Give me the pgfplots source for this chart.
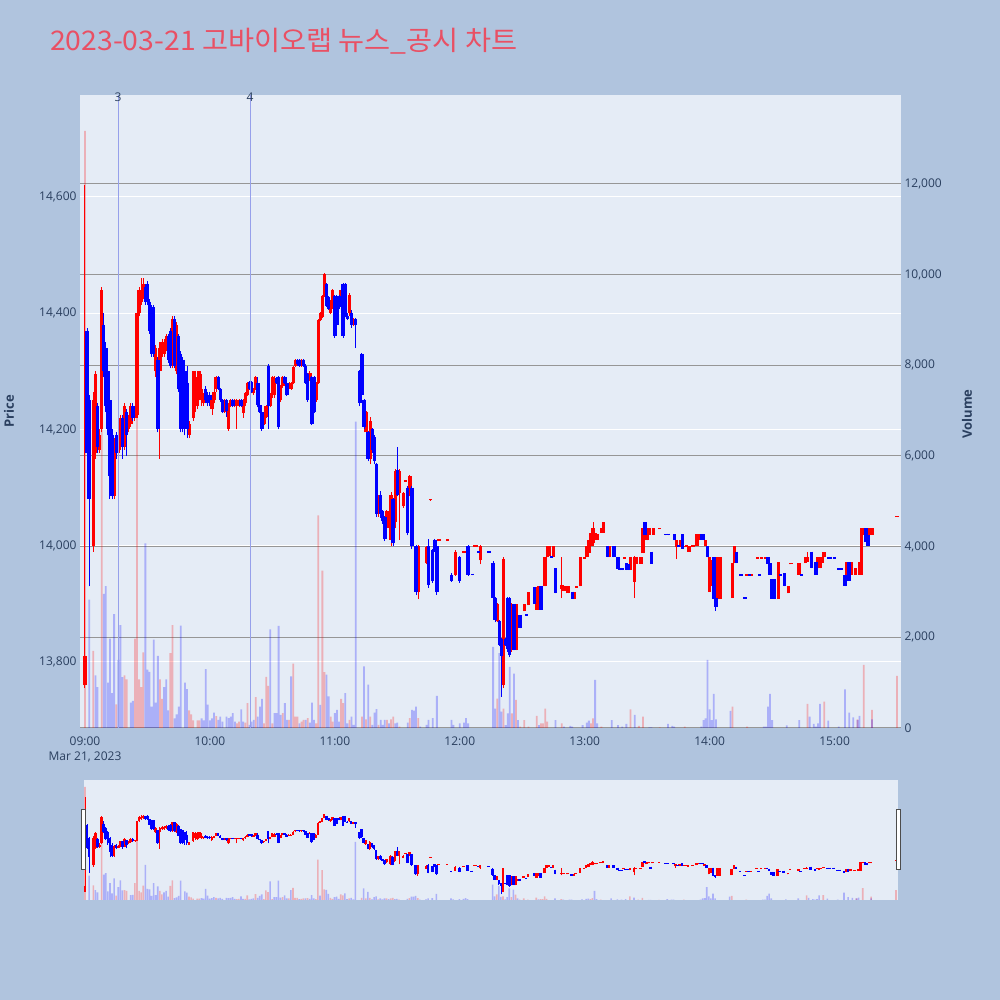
\documentclass[border=0pt]{standalone}
\usepackage{fontspec}
\setmainfont{Open Sans}
\newfontfamily\cjk[FakeStretch=1.05]{Noto Sans CJK KR}
\usepackage{pgfplots}
\pgfplotsset{compat=1.18}
\usepackage{pgfplotstable}

\definecolor{pagebg}{RGB}{176,196,222}
\definecolor{plotbg}{RGB}{229,236,246}
\definecolor{tickc}{RGB}{42,63,95}
\definecolor{gridgray}{RGB}{150,150,150}
\definecolor{cred}{RGB}{255,0,0}
\definecolor{cblue}{RGB}{0,0,255}
\definecolor{vline}{RGB}{150,160,235}
\definecolor{titlec}{RGB}{233,80,100}

% minute index from 09:00, open high low close
\pgfplotstableread{
m o h l c
0 13760 14620 13755 13810
4 14000 14265 13990 14250
5 14160 14300 14150 14295
7 14165 14200 14160 14190
8 14200 14445 14195 14440
14 14085 14185 14080 14180
16 14160 14185 14155 14180
17 14170 14225 14165 14220
19 14170 14245 14165 14240
21 14200 14225 14195 14220
22 14210 14245 14205 14240
24 14220 14235 14215 14230
25 14225 14405 14220 14400
26 14400 14445 14395 14440
27 14420 14460 14415 14440
28 14430 14460 14425 14450
34 14300 14345 14290 14340
36 14300 14350 14150 14340
37 14330 14355 14325 14350
38 14330 14355 14325 14350
39 14340 14365 14335 14360
42 14310 14395 14305 14390
44 14300 14385 14295 14380
50 14190 14215 14185 14210
52 14220 14300 14215 14300
53 14250 14300 14230 14290
54 14240 14300 14235 14260
55 14260 14300 14250 14300
56 14250 14295 14240 14270
57 14245 14262 14240 14258
61 14235 14265 14225 14260
62 14250 14270 14245 14265
63 14270 14292 14265 14290
67 14230 14252 14228 14250
69 14200 14245 14198 14240
70 14241 14252 14238 14250
72 14240 14252 14238 14250
73 14240 14252 14200 14250
74 14240 14252 14238 14250
76 14228 14252 14220 14250
77 14245 14265 14240 14262
78 14260 14282 14258 14280
81 14262 14272 14260 14270
82 14270 14292 14268 14290
86 14210 14224 14208 14222
87 14222 14242 14220 14240
89 14240 14262 14238 14259
90 14259 14292 14255 14290
91 14259 14292 14255 14288
94 14250 14277 14248 14275
95 14275 14292 14272 14290
98 14272 14282 14270 14280
99 14270 14282 14268 14280
100 14280 14310 14278 14308
101 14310 14322 14308 14320
104 14310 14322 14308 14320
108 14285 14300 14283 14298
111 14250 14282 14248 14280
112 14280 14390 14278 14388
113 14388 14402 14386 14400
114 14393 14432 14391 14430
115 14430 14470 14428 14468
118 14400 14422 14398 14420
119 14410 14442 14408 14440
123 14410 14442 14408 14440
127 14400 14435 14395 14432
129 14380 14392 14378 14390
135 14195 14232 14190 14230
137 14150 14222 14140 14215
141 14055 14088 14050 14085
145 14030 14062 14020 14060
147 14010 14092 14000 14088
149 14040 14132 14030 14128
151 14090 14132 14010 14128
153 14068 14092 14065 14090
154 14110 14113 14110 14113
156 14088 14122 14085 14120
160 13920 14002 13908 14000
164 13970 14000 13968 13998
166 14078 14081 14077 14081
170 14008 14011 14008 14011
174 14008 14011 14008 14011
178 13950 13992 13948 13990
182 13988 13991 13988 13991
187 13998 14001 13998 14001
188 13998 14001 13998 14001
190 13975 14002 13968 14000
198 13870 13902 13868 13900
201 13760 13980 13755 13978
205 13820 13902 13818 13900
207 13820 13900 13820 13900
208 13858 13880 13858 13880
211 13887 13900 13887 13900
213 13898 13921 13898 13921
217 13890 13929 13890 13929
218 13900 13931 13900 13931
221 13930 13980 13930 13980
222 13980 14000 13980 14000
223 13982 14000 13982 14000
225 13980 14000 13980 14000
229 13925 13980 13910 13932
230 13922 13931 13922 13931
232 13918 13931 13918 13931
235 13908 13921 13908 13921
236 13928 13931 13928 13931
238 13930 13980 13930 13980
240 13978 13981 13978 13981
241 13980 14000 13980 14000
242 13987 14010 13987 14010
243 14000 14022 14000 14022
244 14005 14040 14000 14030
245 14010 14022 14010 14022
246 14010 14020 14010 14020
248 14022 14030 14022 14030
249 14022 14040 14022 14040
252 13980 14000 13980 14000
259 13978 13981 13978 13981
262 13958 13980 13958 13980
264 13938 13982 13910 13980
265 13969 13980 13969 13980
267 13969 13980 13969 13980
268 13987 14030 13987 14030
270 14009 14030 14009 14030
271 14019 14030 14019 14030
273 14019 14030 14019 14030
276 14028 14031 14028 14031
284 13998 14009 13977 14009
286 13998 14009 13998 14009
288 13997 14000 13997 14000
289 13998 14001 13998 14001
290 13990 14000 13990 14000
292 13998 14001 13998 14001
294 14000 14020 14000 14020
295 14010 14020 14010 14020
298 13999 14009 13999 14009
300 13920 13980 13920 13980
301 13930 13975 13930 13975
304 13908 13980 13908 13980
305 13908 13980 13908 13980
311 13910 13970 13910 13970
312 13970 14000 13970 14000
318 13948 13951 13948 13951
320 13948 13951 13948 13951
323 13978 13981 13978 13981
325 13978 13981 13978 13981
327 13978 13981 13978 13981
333 13908 13972 13908 13972
338 13918 13931 13918 13931
339 13968 13971 13968 13971
343 13950 13970 13950 13970
346 13970 13980 13970 13980
347 13972 13990 13972 13980
352 13970 13980 13970 13980
353 13961 13980 13961 13980
354 13970 13980 13970 13980
355 13980 13990 13980 13990
366 13940 13972 13940 13972
368 13950 13972 13950 13972
370 13950 13962 13950 13962
372 13950 13972 13950 13972
373 13950 14030 13950 14030
374 14019 14030 14019 14030
377 14019 14030 14019 14030
378 14019 14030 14019 14030
390 14049 14052 14049 14052
}\up

\pgfplotstableread{
m o h l c
1 14370 14375 14150 14160
2 14250 14260 13930 14080
6 14240 14245 14160 14170
9 14380 14400 14290 14300
10 14340 14350 14230 14240
11 14300 14310 14190 14200
12 14250 14255 14080 14120
13 14190 14200 14080 14085
15 14190 14195 14150 14160
18 14220 14225 14150 14170
20 14230 14235 14155 14190
23 14240 14245 14215 14220
29 14445 14450 14415 14420
30 14450 14455 14415 14420
31 14420 14425 14365 14370
32 14410 14415 14325 14330
33 14410 14415 14325 14330
35 14320 14325 14195 14200
40 14360 14365 14315 14320
41 14370 14375 14305 14310
43 14390 14395 14305 14310
45 14360 14365 14265 14270
46 14330 14335 14195 14200
47 14320 14325 14195 14200
48 14300 14305 14190 14230
49 14280 14310 14185 14200
58 14270 14275 14245 14250
59 14260 14265 14240 14245
60 14260 14265 14240 14250
64 14290 14292 14268 14270
65 14270 14272 14248 14250
66 14250 14252 14228 14230
68 14250 14252 14222 14232
71 14250 14252 14238 14240
75 14250 14252 14238 14240
79 14282 14284 14268 14270
80 14282 14284 14262 14265
83 14280 14290 14238 14242
84 14242 14244 14228 14230
85 14230 14232 14198 14200
88 14310 14312 14200 14240
92 14288 14290 14278 14280
93 14290 14292 14200 14205
96 14290 14292 14278 14280
97 14280 14282 14258 14260
102 14320 14322 14310 14312
103 14320 14322 14308 14310
105 14320 14322 14308 14310
106 14310 14312 14278 14280
107 14296 14298 14248 14250
109 14290 14292 14208 14210
110 14290 14292 14228 14230
116 14450 14452 14411 14413
117 14428 14430 14406 14408
120 14430 14432 14358 14360
121 14430 14432 14378 14380
122 14430 14432 14408 14410
124 14450 14452 14358 14360
125 14450 14452 14393 14395
126 14395 14400 14388 14390
128 14400 14405 14375 14380
130 14390 14392 14340 14380
132 14300 14302 14240 14245
133 14330 14332 14250 14260
134 14250 14252 14200 14205
136 14196 14198 14145 14150
138 14200 14202 14160 14165
139 14187 14190 14140 14145
140 14140 14142 14050 14055
142 14087 14095 14048 14055
143 14060 14062 14038 14042
144 14050 14052 14008 14012
148 14080 14082 14000 14005
150 14130 14170 14085 14088
155 14100 14102 14018 14022
157 14100 14102 13995 14000
159 14000 14002 13915 13920
165 14000 14012 13928 13932
167 13993 13995 13936 13940
168 14010 14012 13990 13993
169 14000 14002 13916 13920
176 13950 13953 13938 13940
180 13981 13983 13936 13940
184 14000 14002 13948 13950
186 13952 13952 13949 13949
189 13991 13991 13988 13988
194 13991 13991 13988 13988
196 13971 13973 13906 13910
197 13910 13912 13868 13872
199 13870 13872 13827 13830
200 13840 13842 13740 13810
202 13840 13842 13828 13830
203 13910 13912 13818 13822
204 13910 13912 13808 13812
206 13900 13900 13820 13820
209 13880 13880 13858 13858
212 13882 13882 13879 13879
216 13929 13929 13900 13900
219 13931 13931 13890 13890
224 13982 13982 13979 13979
226 13961 13961 13918 13918
234 13921 13921 13908 13908
251 14000 14000 13980 13980
254 14000 14000 13980 13980
256 13980 13980 13960 13960
257 13962 13962 13958 13958
258 13961 13961 13958 13958
260 13970 13970 13958 13958
261 13968 13968 13958 13958
269 14040 14040 14019 14019
272 13990 13990 13969 13969
279 14021 14021 14018 14018
280 14021 14021 14018 14018
283 14020 14020 14009 14009
285 14001 14001 13998 13998
287 14020 14020 13995 13995
296 14020 14020 14010 14010
297 14020 14020 14009 14009
299 14000 14000 13980 13980
302 13980 13980 13908 13908
303 13910 13910 13888 13895
313 13990 13990 13970 13970
315 13951 13951 13948 13948
317 13911 13911 13908 13908
319 13951 13951 13948 13948
324 13951 13951 13948 13948
328 13980 13980 13969 13969
329 13970 13970 13950 13950
330 13942 13942 13909 13909
331 13942 13942 13908 13908
334 13951 13951 13948 13948
336 13953 13953 13930 13930
344 13951 13951 13948 13948
349 13990 13990 13961 13961
351 13972 13972 13950 13950
357 13981 13981 13978 13978
358 13981 13981 13978 13978
360 13981 13981 13978 13978
362 13961 13961 13958 13958
363 13961 13961 13958 13958
365 13950 13950 13930 13930
367 13972 13972 13940 13940
375 14030 14030 14007 14007
376 14019 14019 14000 14000
}\dn

\pgfplotstableread{
m v
0 13170
4 1700
8 9650
15 520
19 1160
20 1070
24 1970
25 9140
26 1070
27 900
28 1670
36 1070
37 640
41 1650
42 2270
50 390
51 300
52 170
54 170
55 170
63 260
73 100
74 140
77 120
78 550
82 680
86 100
87 1125
88 930
90 100
95 330
98 180
100 1420
101 250
102 250
104 140
105 180
107 215
111 100
112 4690
114 3470
115 1230
118 250
119 140
123 640
124 550
127 180
133 250
135 190
137 250
141 70
145 180
147 190
148 250
151 30
156 215
160 215
198 650
201 430
205 325
207 620
209 30
211 175
213 30
217 265
219 100
220 100
221 430
222 140
229 100
243 100
244 210
248 30
262 410
266 45
268 250
276 15
288 30
311 470
318 30
347 530
355 580
371 190
374 1390
378 400
390 1150
}\volup

\pgfplotstableread{
m v
2 2830
5 1160
6 900
9 2960
10 3130
11 1000
12 1970
13 770
14 2510
16 1500
17 2270
18 1120
22 560
23 600
29 4075
30 1290
31 1240
32 470
33 1950
34 560
35 1590
38 900
39 1070
40 390
43 210
44 300
45 470
46 2260
48 1000
49 860
56 210
57 170
58 1300
59 515
60 170
61 210
62 340
64 180
65 250
66 140
68 250
69 215
70 250
71 330
72 140
75 410
76 140
79 70
80 140
81 180
83 250
84 470
85 640
89 2175
91 330
92 330
93 2250
94 290
96 550
97 180
99 1140
103 100
106 180
108 120
109 560
110 180
113 510
116 1180
117 700
120 330
121 400
122 140
125 770
126 100
128 250
129 70
130 6760
134 1360
136 955
138 70
139 340
140 415
142 180
143 70
144 180
146 100
149 100
150 120
155 120
157 400
158 385
159 470
161 30
164 70
165 180
167 215
169 710
176 180
177 70
180 100
182 120
183 215
184 100
196 1790
197 430
199 1650
200 360
202 65
203 325
204 1350
206 1200
208 175
218 65
226 175
230 30
233 45
234 30
239 65
241 120
242 160
245 1060
246 100
253 175
256 65
258 30
260 90
264 290
271 15
272 15
280 90
282 45
283 30
296 30
297 175
298 210
299 1500
300 410
301 175
302 750
303 190
310 380
326 30
327 30
328 470
329 750
330 175
337 60
343 175
348 250
350 90
351 30
352 100
353 530
357 160
362 30
365 850
367 340
369 235
371 175
372 265
378 190
}\voldn

% turn an OHLC table into two jump paths: wicks (low-high) and bodies (open-close)
\newcommand\buildcandles[3]{%
  \pgfplotstablegetrowsof{#1}%
  \pgfmathtruncatemacro\lastrow{\pgfplotsretval-1}%
  \gdef\tmpw{}\gdef\tmpb{}%
  \foreach \i in {0,...,\lastrow}{%
    \pgfplotstablegetelem{\i}{m}\of{#1}\let\vm\pgfplotsretval
    \pgfplotstablegetelem{\i}{o}\of{#1}\let\vo\pgfplotsretval
    \pgfplotstablegetelem{\i}{h}\of{#1}\let\vh\pgfplotsretval
    \pgfplotstablegetelem{\i}{l}\of{#1}\let\vl\pgfplotsretval
    \pgfplotstablegetelem{\i}{c}\of{#1}\let\vc\pgfplotsretval
    \xdef\tmpw{\tmpw (\vm,\vl) (\vm,\vh) (\vm,nan)}%
    \xdef\tmpb{\tmpb (\vm,\vo) (\vm,\vc) (\vm,nan)}%
  }%
  \global\let#2\tmpw
  \global\let#3\tmpb
}
\buildcandles{\up}{\upw}{\upb}
\buildcandles{\dn}{\dnw}{\dnb}

\newcommand\drawpath[3]{%
  \edef\tmp{\noexpand\addplot[#2, line width=#3, mark=none,
    unbounded coords=jump, forget plot] coordinates {#1};}\tmp}
\newcommand\volbars[3]{%
  \addplot[ybar, bar width=#3, bar shift=0pt, fill=#2, fill opacity=0.25,
    draw=none, forget plot] table[x=m, y=v] {#1};
}

\tikzset{tickfont/.style={font=\fontsize{12}{14}\selectfont, text=tickc}}
\pgfplotsset{
  base/.style={
    anchor=south west, scale only axis,
    axis line style={draw=none},
    major tick length=0pt,
    /pgf/number format/1000 sep={,},
    /pgf/number format/assume math mode=true,
    scaled y ticks=false,
  },
  mainbox/.style={base, at={(80pt,272pt)}, width=821pt, height=633pt,
    xmin=-2.4, xmax=391.9},
  slidebox/.style={base, at={(84pt,100pt)}, width=814pt, height=120pt,
    xmin=-0.48, xmax=390.96, xtick=\empty, ytick=\empty},
}

\begin{document}
\begin{tikzpicture}
\fill[pagebg] (0pt,0pt) rectangle (1000pt,1000pt);

% price grid and tick labels
\begin{axis}[mainbox, ymin=13686.4, ymax=14775.5,
  axis background/.style={fill=plotbg},
  ymajorgrids, grid style={white, line width=1pt},
  ytick={13800,14000,...,14600},
  yticklabel style={tickfont},
  xtick={0,60,...,360},
  xticklabels={09:00,10:00,11:00,12:00,13:00,14:00,15:00},
  xticklabel style={tickfont, yshift=-5pt},
]
\end{axis}

% volume
\begin{axis}[mainbox, ymin=0, ymax=13963,
  hide x axis, axis y line*=right,
  ymajorgrids, grid style={gridgray, line width=1pt},
  ytick={0,2000,...,12000},
  yticklabel style={tickfont},
]
\volbars{\volup}{cred}{1.8pt}
\volbars{\voldn}{cblue}{1.8pt}
\end{axis}

% candles
\begin{axis}[mainbox, ymin=13686.4, ymax=14775.5, xtick=\empty, ytick=\empty]
\drawpath{\upw}{cred}{1pt}
\drawpath{\upb}{cred}{3.4pt}
\drawpath{\dnw}{cblue}{1pt}
\drawpath{\dnb}{cblue}{3.4pt}
\addplot[vline, line width=1pt, forget plot] coordinates {(15.85,13686.4) (15.85,14775.5)};
\addplot[vline, line width=1pt, forget plot] coordinates {(79.25,13686.4) (79.25,14775.5)};
\end{axis}

% range slider
\begin{axis}[slidebox, ymin=0, ymax=13963,
  axis background/.style={fill=plotbg}]
\volbars{\volup}{cred}{1.6pt}
\volbars{\voldn}{cblue}{1.6pt}
\end{axis}
\begin{axis}[slidebox, ymin=13686.4, ymax=14775.5]
\drawpath{\upw}{cred}{0.8pt}
\drawpath{\upb}{cred}{2.6pt}
\drawpath{\dnw}{cblue}{0.8pt}
\drawpath{\dnb}{cblue}{2.6pt}
\end{axis}

\filldraw[fill=white, draw=black!70, line width=1pt] (81.5pt,130pt) rectangle (85.5pt,190pt);
\filldraw[fill=white, draw=black!70, line width=1pt] (896pt,130pt) rectangle (900pt,190pt);

\node[anchor=base west, text=titlec, inner sep=0pt,
  font=\cjk\fontsize{27}{27}\selectfont] at (50pt,949pt)
  {2023-03-21 고바이오랩 뉴스\_공시 차트};
\node[tickfont, anchor=base, inner sep=0pt] at (85pt,239pt) {Mar 21, 2023};
\node[tickfont, inner sep=0pt] at (118pt,903pt) {3};
\node[tickfont, inner sep=0pt] at (250pt,903pt) {4};
\node[rotate=90, text=tickc, font=\bfseries\fontsize{13}{15}\selectfont] at (9pt,588.5pt) {Price};
\node[rotate=90, text=tickc, font=\bfseries\fontsize{13}{15}\selectfont] at (967pt,586pt) {Volume};
\end{tikzpicture}
\end{document}
